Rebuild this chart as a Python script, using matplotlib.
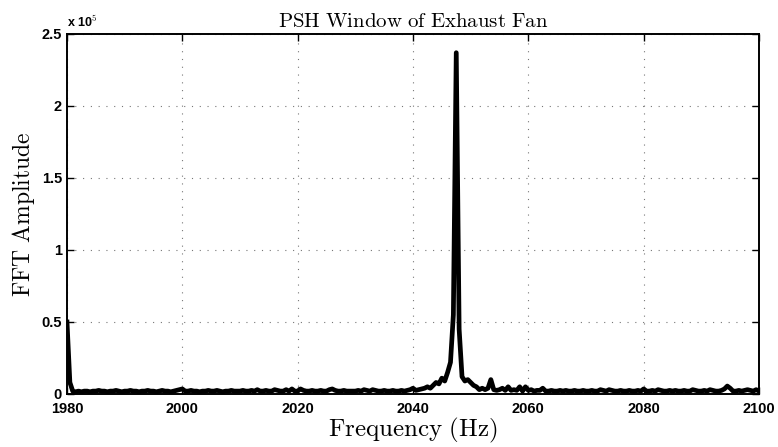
import numpy as np
import matplotlib
matplotlib.use("Agg")
import matplotlib.pyplot as plt
from matplotlib.ticker import FuncFormatter

plt.rcParams['mathtext.fontset'] = 'cm'

# Frequency axis (Hz), 0.5 Hz resolution
freq_start, freq_stop, freq_step = 1980.0, 2100.0, 0.5
# FFT amplitude in units of 1e5
amp_e5 = [
    0.50, 0.08, 0.02, 0.015, 0.02, 0.015, 0.02, 0.02, 0.015, 0.02,   # 1980
    0.02, 0.025, 0.02, 0.02, 0.015, 0.02, 0.02, 0.025, 0.02, 0.015,  # 1985
    0.02, 0.02, 0.025, 0.02, 0.02, 0.015, 0.02, 0.02, 0.025, 0.02,   # 1990
    0.02, 0.015, 0.02, 0.025, 0.02, 0.02, 0.015, 0.02, 0.025, 0.03,  # 1995
    0.035, 0.02, 0.02, 0.025, 0.02, 0.02, 0.015, 0.02, 0.02, 0.025,  # 2000
    0.02, 0.02, 0.025, 0.02, 0.015, 0.02, 0.02, 0.025, 0.02, 0.02,   # 2005
    0.02, 0.025, 0.02, 0.02, 0.025, 0.02, 0.03, 0.02, 0.02, 0.025,   # 2010
    0.02, 0.02, 0.03, 0.025, 0.02, 0.02, 0.03, 0.02, 0.035, 0.02,    # 2015
    0.02, 0.035, 0.025, 0.02, 0.02, 0.025, 0.02, 0.02, 0.025, 0.02,  # 2020
    0.02, 0.03, 0.035, 0.025, 0.02, 0.02, 0.025, 0.02, 0.02, 0.02,   # 2025
    0.02, 0.025, 0.02, 0.03, 0.025, 0.02, 0.03, 0.025, 0.02, 0.02,   # 2030
    0.025, 0.02, 0.02, 0.025, 0.02, 0.02, 0.025, 0.02, 0.025, 0.03,  # 2035
    0.04, 0.025, 0.03, 0.035, 0.04, 0.05, 0.04, 0.06, 0.08, 0.07,    # 2040
    0.11, 0.09, 0.15, 0.22, 0.55, 2.37, 0.45, 0.12, 0.09, 0.10,      # 2045
    0.08, 0.06, 0.05, 0.03, 0.04, 0.03, 0.04, 0.10, 0.03, 0.025,     # 2050
    0.03, 0.04, 0.025, 0.05, 0.025, 0.03, 0.025, 0.05, 0.02, 0.05,   # 2055
    0.025, 0.03, 0.02, 0.025, 0.025, 0.04, 0.02, 0.02, 0.025, 0.02,  # 2060
    0.02, 0.025, 0.02, 0.025, 0.02, 0.02, 0.025, 0.02, 0.02, 0.025,  # 2065
    0.02, 0.02, 0.025, 0.02, 0.02, 0.03, 0.025, 0.02, 0.03, 0.025,   # 2070
    0.02, 0.02, 0.025, 0.02, 0.02, 0.025, 0.02, 0.02, 0.025, 0.02,   # 2075
    0.035, 0.02, 0.02, 0.025, 0.02, 0.03, 0.025, 0.02, 0.02, 0.025,  # 2080
    0.02, 0.025, 0.02, 0.02, 0.025, 0.02, 0.02, 0.03, 0.025, 0.02,   # 2085
    0.02, 0.025, 0.02, 0.03, 0.025, 0.02, 0.02, 0.025, 0.035, 0.055, # 2090
    0.04, 0.02, 0.02, 0.025, 0.02, 0.025, 0.03, 0.025, 0.02, 0.03,   # 2095
    0.02,                                                            # 2100
]
x_ticks = [1980, 2000, 2020, 2040, 2060, 2080, 2100]
y_ticks_e5 = [0, 0.5, 1, 1.5, 2, 2.5]

freq = np.arange(freq_start, freq_stop + freq_step / 2, freq_step)
amp = np.array(amp_e5) * 1e5

fig = plt.figure(figsize=(7.78, 4.47), dpi=100)
ax = fig.add_axes([0.0861, 0.1186, 0.8895, 0.8054])

ax.plot(freq, amp, color='black', lw=3.4, solid_joinstyle='round')

ax.set_xlim(1980, 2100)
ax.set_ylim(0, 2.5e5)
ax.set_xticks(x_ticks)
ax.set_yticks([v * 1e5 for v in y_ticks_e5])
ax.yaxis.set_major_formatter(FuncFormatter(lambda v, p: f"{v/1e5:g}"))

ax.grid(True, color='#777777', linestyle=(0, (1, 6)), linewidth=0.8)
ax.tick_params(direction='in', top=True, right=True, length=5, width=1,
               labelsize=10.5)
ax.tick_params(axis='x', pad=6)
ax.tick_params(axis='y', pad=3.5)
for lab in ax.get_xticklabels() + ax.get_yticklabels():
    lab.set_fontfamily('Liberation Sans')
    lab.set_fontweight('bold')
for s in ax.spines.values():
    s.set_linewidth(1.4)

ax.text(0.0, 1.012, r"x 10$^5$", transform=ax.transAxes, ha='left', va='bottom',
        fontsize=9, fontweight='bold', family='Liberation Sans')

ax.set_title(r"$\mathrm{PSH\ Window\ of\ Exhaust\ Fan}$", fontsize=15, pad=5)
ax.set_xlabel(r"$\mathrm{Frequency\ (Hz)}$", fontsize=18, labelpad=0)
ax.set_ylabel(r"$\mathrm{FFT\ Amplitude}$", fontsize=17, labelpad=3)

fig.savefig("out.png", dpi=100)
